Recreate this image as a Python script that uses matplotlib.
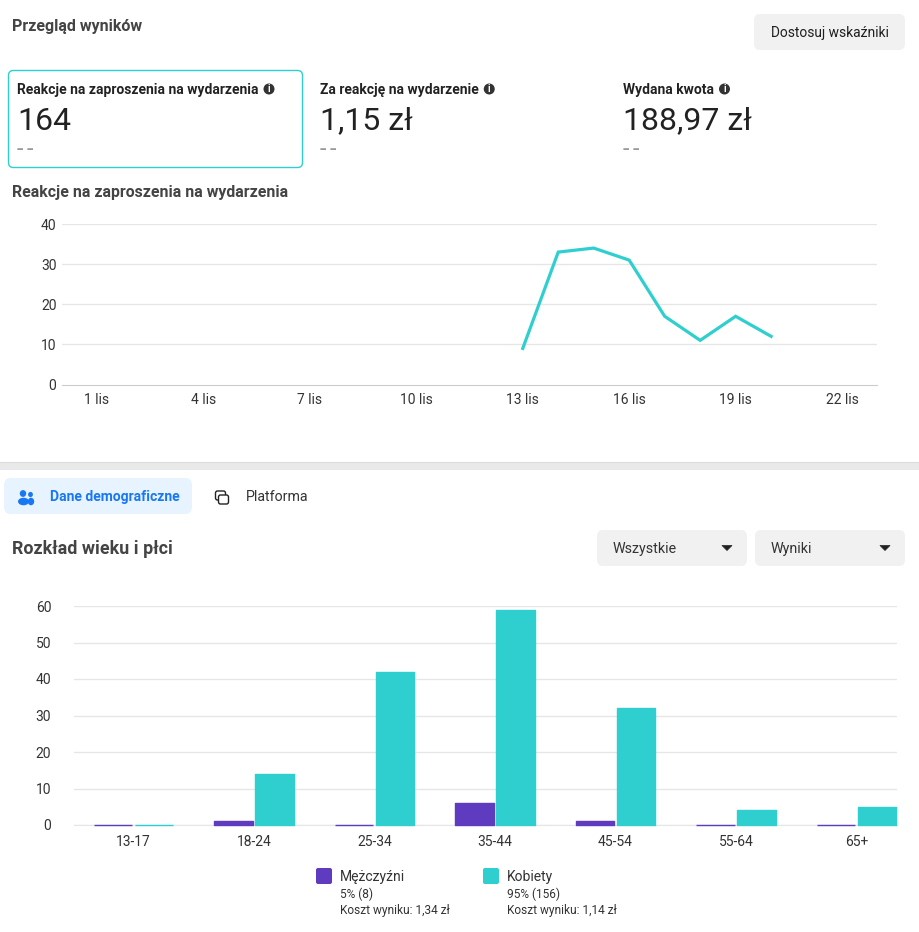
import matplotlib
matplotlib.use('Agg')
from matplotlib import pyplot as plt
from matplotlib.patches import FancyBboxPatch, Circle, Polygon, Rectangle, Ellipse

plt.rcParams['font.family'] = ['Roboto', 'DejaVu Sans']

W, H = 919, 932
TEAL = '#30cfcf'
PURPLE = '#5e3bbf'
GRID = '#e6e6e6'
DARK = '#444444'
TEXT = '#1f1f1f'
BTN = '#f1f1f1'

# daily results
day_ticks = [1, 4, 7, 10, 13, 16, 19, 22]
day_labels = ['1 lis', '4 lis', '7 lis', '10 lis', '13 lis', '16 lis', '19 lis', '22 lis']
days = [13, 14, 15, 16, 17, 18, 19, 20]
reactions = [9, 33, 34, 31, 17, 11, 17, 12]

# age and gender breakdown
age_groups = ['13-17', '18-24', '25-34', '35-44', '45-54', '55-64', '65+']
men = [0, 1, 0, 6, 1, 0, 0]
women = [0, 14, 42, 59, 32, 4, 5]

# summary cards
card_titles = ['Reakcje na zaproszenia na wydarzenia', 'Za reakcję na wydarzenie', 'Wydana kwota']
card_values = ['164', '1,15 zł', '188,97 zł']


def px_axes(left, top, right, bottom):
    return fig.add_axes([left / W, 1 - bottom / H, (right - left) / W, (bottom - top) / H])


def rbox(x0, y0, x1, y1, r=6, fc=BTN, ec='none', lw=0, z=1):
    ui.add_patch(FancyBboxPatch((x0 + r, y0 + r), x1 - x0 - 2 * r, y1 - y0 - 2 * r,
                                boxstyle=f'round,pad={r},rounding_size={r}',
                                fc=fc, ec=ec, lw=lw, zorder=z))


def label(x, y, s, size=10, color=TEXT, weight='normal', ha='left'):
    return ui.text(x, y, s, fontsize=size, color=color, fontweight=weight, ha=ha, va='center')


def info_icon(x, y):
    ui.add_patch(Circle((x, y), 5.5, fc='#333333', ec='none', zorder=3))
    ui.text(x, y + 0.3, 'i', color='white', fontsize=7, fontweight='bold', ha='center', va='center', zorder=4)


def caret(x, y):
    ui.add_patch(Polygon([(x - 5, y - 2), (x + 5, y - 2), (x, y + 3)], closed=True,
                         fc='#222222', ec='#222222', lw=0.5, joinstyle='round', zorder=3))


fig = plt.figure(figsize=(W / 100, H / 100), dpi=100, facecolor='white')

# page furniture lives on a full-size axes in pixel coordinates
ui = fig.add_axes([0, 0, 1, 1])
ui.set_xlim(0, W)
ui.set_ylim(H, 0)
ui.axis('off')

label(12, 26, 'Przegląd wyników', size=11.5, color=DARK, weight='bold')
rbox(754, 14, 905, 50)
label(829.5, 32.5, 'Dostosuj wskaźniki', size=9.9, ha='center')

rbox(8.5, 70.5, 302.5, 167.5, r=5, fc='white', ec=TEAL, lw=1)
for x, t, v in zip([17, 320, 623], card_titles, card_values):
    tx = label(x, 90, t, size=9.98, color='#222222', weight='bold')
    bb = tx.get_window_extent(fig.canvas.get_renderer())
    info_icon(bb.x1 + 10.5, 89)
    label(x, 121, v, size=23, color='#222222')
    # two separate dashes for the empty comparison value
    label(x, 150, '-', size=17, color='#999999')
    label(x + 9.5, 150, '-', size=17, color='#999999')

label(12, 192, 'Reakcje na zaproszenia na wydarzenia', size=11.45, color=DARK, weight='bold')

# divider between the two panels
ui.add_patch(Rectangle((0, 462), W, 7.5, fc='#e9e9e9', ec='none'))
ui.plot([0, W], [462, 462], color='#dcdcdc', lw=0.8)

# tabs
rbox(4, 478, 192, 514, r=7, fc='#e7f3ff')
label(50, 496.5, 'Dane demograficzne', size=10, color='#1877f2', weight='bold')
label(246, 497, 'Platforma', size=10.2, color='#333333')

# people icon on the active tab
for cx, cy, rw, rh, bx, bw in [(23, 493.5, 3.2, 3.4, 23.5, 5.5), (30.5, 494.5, 2.4, 2.6, 31, 3.2)]:
    ui.add_patch(Ellipse((cx, cy), rw * 2, rh * 2, fc='#1877f2', ec='none', zorder=3))
    ui.add_patch(Ellipse((bx, 501.5), bw * 2, 7.5, fc='#1877f2', ec='none', zorder=3))

# overlapping squares icon
rbox(215.5, 491, 225.5, 500, r=2, fc='white', ec='#222222', lw=1, z=3)
rbox(218.5, 495, 228.5, 504, r=2, fc='white', ec='#222222', lw=1, z=4)

label(12, 549, 'Rozkład wieku i płci', size=12.85, color=DARK, weight='bold')

rbox(597, 530, 747, 566)
label(613, 549, 'Wszystkie', size=10.3, color='#333333')
caret(727, 547.5)
rbox(755, 530, 905, 566)
label(771, 549, 'Wyniki', size=10.3, color='#333333')
caret(885, 547.5)

# daily line chart
ax1 = px_axes(62, 224, 877, 384.5)
ax1.patch.set_alpha(0)
ax1.plot(days, reactions, color=TEAL, lw=2.3, solid_joinstyle='miter', zorder=3)
ax1.set_ylim(0, 40)
ax1.set_xlim(1 - 35 / 35.48, 1 + 780 / 35.48)
ax1.set_yticks([0, 10, 20, 30, 40])
ax1.set_xticks(day_ticks)
ax1.set_xticklabels(day_labels)
ax1.yaxis.grid(True, color=GRID, lw=1)
ax1.set_axisbelow(True)
for s in ['top', 'right', 'left']:
    ax1.spines[s].set_visible(False)
ax1.spines['bottom'].set_color('#cccccc')
ax1.tick_params(length=0, labelsize=10, labelcolor='#333333')
ax1.tick_params(axis='x', pad=6)
ax1.tick_params(axis='y', pad=4)
ax1.yaxis.get_major_ticks()[0].gridline.set_visible(False)

# age and gender bars, offset either side of each group centre
ax2 = px_axes(73.5, 606, 897, 825)
ax2.patch.set_alpha(0)
xs = list(range(len(age_groups)))
offset = 20.5 / 120.5
width = 38.5 / 120.5
ax2.bar([x - offset for x in xs], men, width, color=PURPLE, edgecolor=PURPLE, lw=1,
        joinstyle='round', clip_on=False, zorder=3)
ax2.bar([x + offset for x in xs], women, width, color=TEAL, edgecolor=TEAL, lw=1,
        joinstyle='round', clip_on=False, zorder=3)
ax2.set_ylim(0, 60)
ax2.set_xlim(-60 / 120.5, (897 - 133.5) / 120.5)
ax2.set_yticks([0, 10, 20, 30, 40, 50, 60])
ax2.set_xticks(xs)
ax2.set_xticklabels(age_groups)
ax2.yaxis.grid(True, color=GRID, lw=1)
ax2.set_axisbelow(True)
for s in ['top', 'right', 'left']:
    ax2.spines[s].set_visible(False)
ax2.spines['bottom'].set_color(GRID)
ax2.tick_params(length=0, labelsize=10, labelcolor='#333333')
ax2.tick_params(axis='x', pad=7)
ax2.tick_params(axis='y', pad=16)

# legend
rbox(316, 868, 332, 884, r=2, fc=PURPLE, z=3)
label(340, 877, 'Mężczyźni', size=10, color='#333333')
label(340, 894.5, '5% (8)', size=8.6, color='#333333')
label(340, 910.5, 'Koszt wyniku: 1,34 zł', size=8.6, color='#333333')
rbox(483, 868, 499, 884, r=2, fc=TEAL, z=3)
label(507, 877, 'Kobiety', size=10, color='#333333')
label(507, 894.5, '95% (156)', size=8.6, color='#333333')
label(507, 910.5, 'Koszt wyniku: 1,14 zł', size=8.6, color='#333333')

fig.savefig('out.png', dpi=100)
